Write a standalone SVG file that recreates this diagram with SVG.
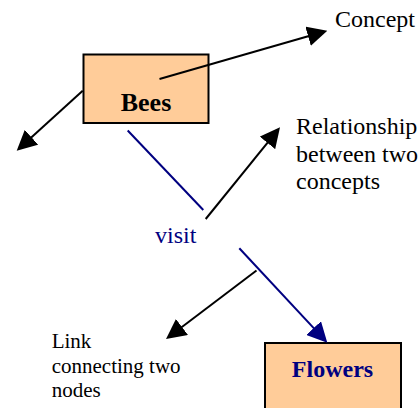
<svg xmlns="http://www.w3.org/2000/svg" width="418" height="408" viewBox="0 0 418 408">
<style>
  .box { fill: #FFCC99; stroke: #000; stroke-width: 2; }
  text { font-family: "Liberation Serif", "Times New Roman", serif; }
  .blk { stroke: #000; stroke-width: 2; fill: none; }
  .blu { stroke: #000080; stroke-width: 2; fill: none; }
</style>
<defs>
  <marker id="ah" viewBox="0 0 20 20" refX="10" refY="10" markerWidth="20" markerHeight="20" markerUnits="userSpaceOnUse" orient="auto">
    <path d="M0,0 L20,10 L0,20 z" fill="#000"/>
  </marker>
  <marker id="ahb" viewBox="0 0 20 20" refX="10" refY="10" markerWidth="20" markerHeight="20" markerUnits="userSpaceOnUse" orient="auto">
    <path d="M0,0 L20,10 L0,20 z" fill="#000080"/>
  </marker>
</defs>
<rect width="418" height="408" fill="#fff"/>
<g id="bees">
  <rect class="box" x="83.5" y="54.5" width="125" height="68.5"/>
  <text x="146" y="111" font-family="Liberation Serif, serif" font-size="26" font-weight="bold" text-anchor="middle" fill="#000">Bees</text>
</g>
<g id="flowers">
  <rect class="box" x="265" y="343" width="136" height="80"/>
  <text x="332.5" y="376.5" font-family="Liberation Serif, serif" font-size="24" font-weight="bold" text-anchor="middle" fill="#000080">Flowers</text>
</g>
<g id="connectors">
  <line class="blk" x1="159.5" y1="79" x2="317.7" y2="33.5" marker-end="url(#ah)"/>
  <line class="blk" x1="82.7" y1="90.7" x2="24.1" y2="144" marker-end="url(#ah)"/>
  <line class="blu" x1="127.7" y1="130.5" x2="203.3" y2="210"/>
  <line class="blk" x1="205.7" y1="219" x2="273.7" y2="135.1" marker-end="url(#ah)"/>
  <line class="blu" x1="239.3" y1="248.3" x2="320.5" y2="335.4" marker-end="url(#ahb)"/>
  <line class="blk" x1="256.5" y1="270.5" x2="174" y2="333" marker-end="url(#ah)"/>
</g>
<g id="visit">
  <text x="155" y="242.7" font-family="Liberation Serif, serif" font-size="24" fill="#000080">visit</text>
</g>
<g id="annotations" fill="#000">
  <text x="335" y="27.3" font-family="Liberation Serif, serif" font-size="24">Concept</text>
  <text x="296" y="134.3" font-family="Liberation Serif, serif" font-size="24">Relationship</text>
  <text x="296" y="161.7" font-family="Liberation Serif, serif" font-size="24">between two</text>
  <text x="296" y="189" font-family="Liberation Serif, serif" font-size="24">concepts</text>
  <text x="51.7" y="347.7" font-family="Liberation Serif, serif" font-size="21">Link</text>
  <text x="51.7" y="372.7" font-family="Liberation Serif, serif" font-size="21">connecting two</text>
  <text x="51.7" y="397.3" font-family="Liberation Serif, serif" font-size="21">nodes</text>
</g>
</svg>
